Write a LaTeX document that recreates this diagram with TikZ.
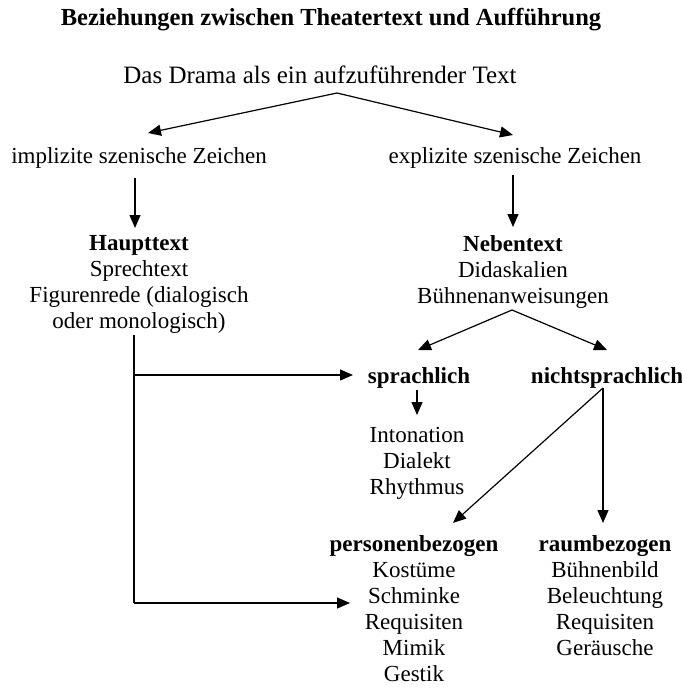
\documentclass[tikz,border=0pt]{standalone}
\usepackage{fontspec}
\setmainfont{Liberation Serif}
\usetikzlibrary{arrows.meta}

\tikzset{
  txt/.style={inner sep=0pt, align=center, font=\fontsize{23}{26}\selectfont},
  head/.style={inner sep=0pt, font=\fontsize{23}{26}\selectfont\bfseries},
  arr/.style={line width=1.2pt, -{Triangle[length=13pt,width=11pt]}},
  ln/.style={line width=1.2pt}
}

\begin{document}
\begin{tikzpicture}[x=1pt,y=-1pt]
\useasboundingbox[fill=white] (0,0) rectangle (682,688);
% texte
\node[head,font=\fontsize{24.5}{26}\selectfont\bfseries] (titel) at (331,20) {Beziehungen zwischen Theatertext und Aufführung};
\node[txt,font=\fontsize{25}{26}\selectfont] (drama) at (320,75) {Das Drama als ein aufzuführender Text};
\node[txt] (impl) at (139,158) {implizite szenische Zeichen};
\node[txt] (expl) at (515,158) {explizite szenische Zeichen};
\node[txt,anchor=north] (haupt) at (139,235) {\textbf{Haupttext}\\Sprechtext\\Figurenrede (dialogisch\\oder monologisch)};
\node[txt,anchor=north] (neben) at (513,235) {\textbf{Nebentext}\\Didaskalien\\Bühnenanweisungen};
\node[head] (sprach) at (419,378) {sprachlich};
\node[head] (nicht) at (607,378) {nichtsprachlich};
\node[txt,anchor=north] (sprachl) at (417,427) {Intonation\\Dialekt\\Rhythmus};
\node[txt,anchor=north] (person) at (414,535) {\textbf{personenbezogen}\\Kostüme\\Schminke\\Requisiten\\Mimik\\Gestik};
\node[txt,anchor=north] (raum) at (605,535) {\textbf{raumbezogen}\\Bühnenbild\\Beleuchtung\\Requisiten\\Geräusche};

% punkte fuer die pfeile
\coordinate (d0) at (337,93);
\coordinate (d1) at (148,133);
\coordinate (d2) at (513,135);
\coordinate (i0) at (135,178);
\coordinate (i1) at (135,228);
\coordinate (e0) at (513,175);
\coordinate (e1) at (513,227);
\coordinate (n0) at (512,310);
\coordinate (n1) at (418,350);
\coordinate (n2) at (607,350);
\coordinate (h0) at (134,335);
\coordinate (h1) at (134,375);
\coordinate (h2) at (134,603);
\coordinate (s1) at (353,375);
\coordinate (p1) at (350,603);
\coordinate (sp0) at (417,390);
\coordinate (sp1) at (417,415);
\coordinate (ns0) at (603,388);
\coordinate (ns1) at (453,523);
\coordinate (ns2) at (603,523);

% pfeile
\draw[arr] (d0) -- (d1);
\draw[arr] (d0) -- (d2);
\draw[arr] (i0) -- (i1);
\draw[arr] (e0) -- (e1);
\draw[arr] (n0) -- (n1);
\draw[arr] (n0) -- (n2);
\draw[ln] (h0) -- (h2);
\draw[arr] (h1) -- (s1);
\draw[arr] (h2) -- (p1);
\draw[arr] (sp0) -- (sp1);
\draw[arr] (ns0) -- (ns1);
\draw[arr] (ns0) -- (ns2);
\end{tikzpicture}
\end{document}
